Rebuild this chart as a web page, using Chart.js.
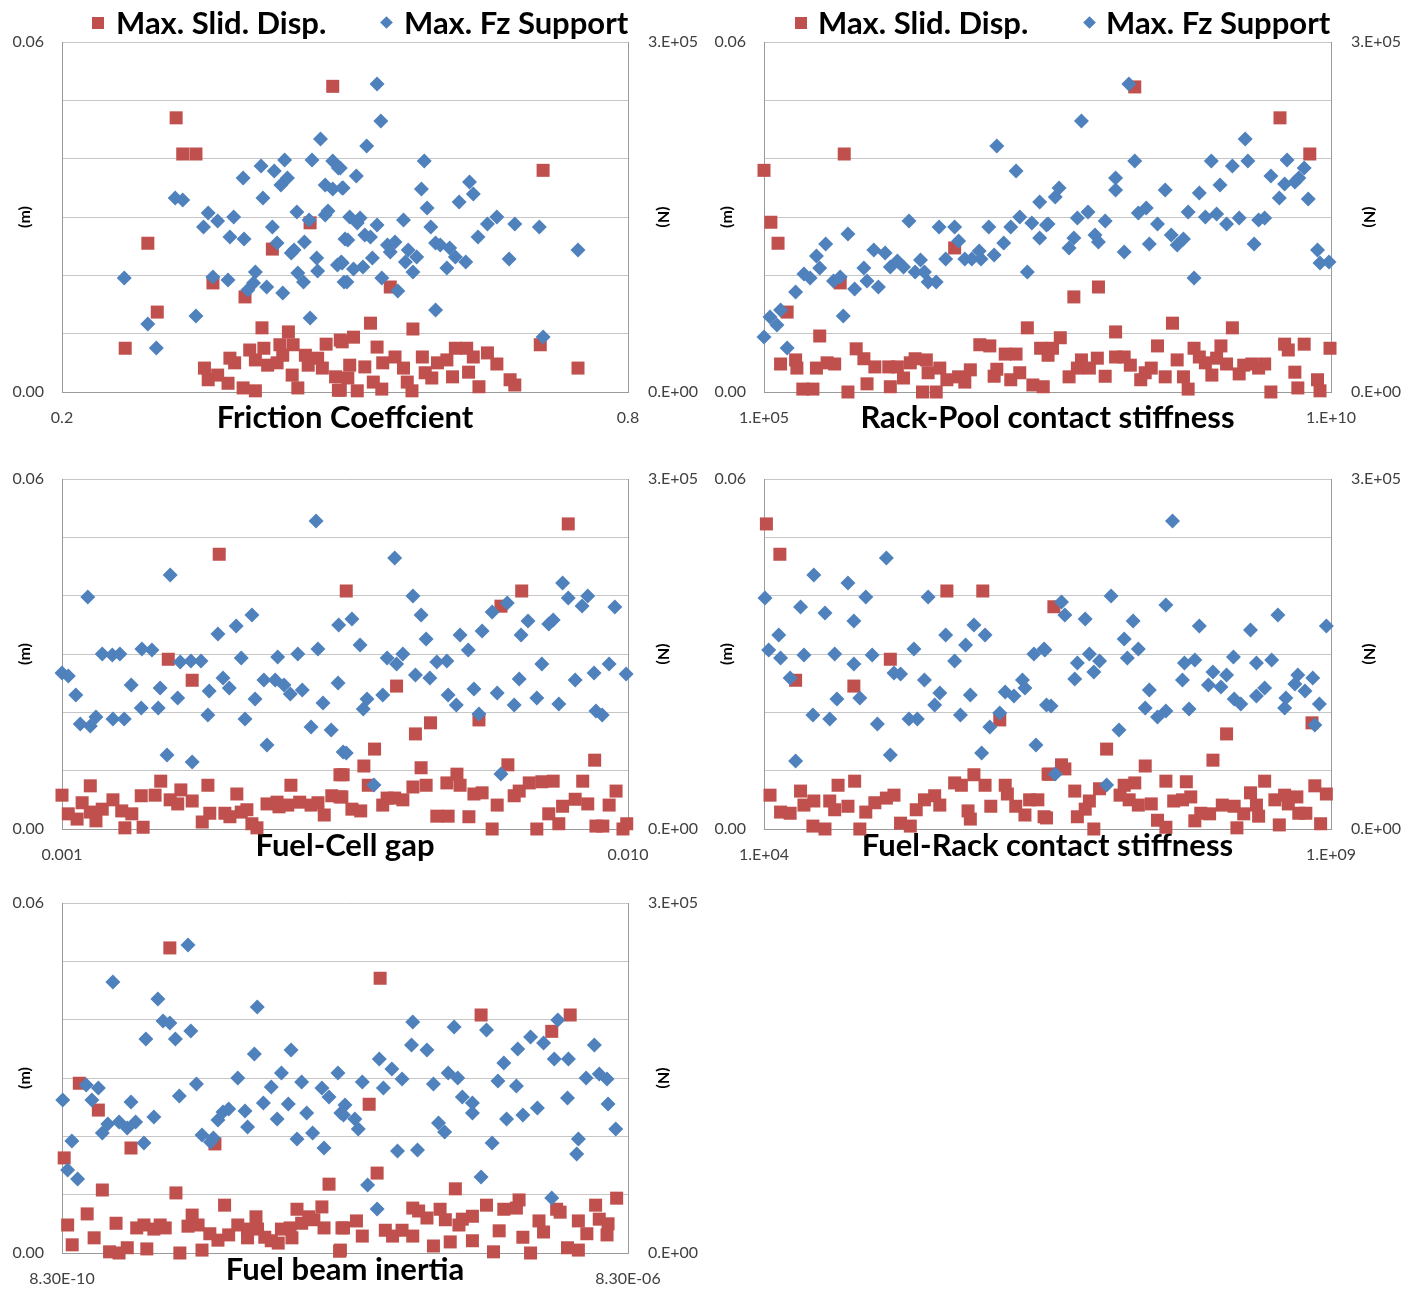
<!DOCTYPE html>
<html>
<head>
<meta charset="utf-8">
<title>Sensitivity scatter</title>
<script src="https://cdn.jsdelivr.net/npm/chart.js@4.4.1/dist/chart.umd.min.js"></script>
<style>
  body { margin: 0; background: #fff; font-family: Lato, "Open Sans", sans-serif; }
  #wrap { position: relative; width: 1420px; height: 1289px; overflow: hidden; }
  canvas { position: absolute; }
  .lg { position: absolute; font-weight: bold; font-size: 31px; line-height: 36px; color: #000; white-space: nowrap; }
  .sq { position: absolute; width: 12px; height: 12px; background: #C0504D; }
  .dm { position: absolute; width: 9px; height: 9px; background: #4F81BD; transform: rotate(45deg); }
</style>
</head>
<body>
<div id="wrap">
  <canvas id="c1" width="724" height="440" style="left:0;top:0"></canvas>
  <canvas id="c2" width="710" height="440" style="left:710px;top:0"></canvas>
  <canvas id="c3" width="724" height="428" style="left:0;top:440px"></canvas>
  <canvas id="c4" width="710" height="428" style="left:710px;top:440px"></canvas>
  <canvas id="c5" width="724" height="425" style="left:0;top:864px"></canvas>

  <div class="sq" style="left:92px;top:17px"></div>
  <div class="lg" style="left:116px;top:4px">Max. Slid. Disp.</div>
  <div class="dm" style="left:382px;top:18px"></div>
  <div class="lg" style="left:404px;top:4px">Max. Fz Support</div>

  <div class="sq" style="left:795px;top:17px"></div>
  <div class="lg" style="left:818px;top:4px">Max. Slid. Disp.</div>
  <div class="dm" style="left:1085px;top:18px"></div>
  <div class="lg" style="left:1106px;top:4px">Max. Fz Support</div>
</div>
<script>
// series names
const seriesNames = ["Max. Slid. Disp.", "Max. Fz Support"];

// axis tick labels (only the ends are labelled)
const dispTicks = ["0.00", "0.06"];
const forceTicks = ["0.E+00", "3.E+05"];
const frictionTicks = ["0.2", "0.8"];
const rackPoolTicks = ["1.E+05", "1.E+10"];
const cellGapTicks = ["0.001", "0.010"];
const fuelRackTicks = ["1.E+04", "1.E+09"];
const inertiaTicks = ["8.30E-10", "8.30E-06"];

// --- Friction coefficient: [x, displacement m] and [x, force N]
const frictionDisp = [
  [0.487,0.0524],[0.321,0.0470],[0.328,0.0408],[0.342,0.0408],[0.463,0.0290],[0.291,0.0255],[0.423,0.0245],
  [0.360,0.0187],[0.394,0.0163],[0.301,0.0137],[0.267,0.0075],[0.412,0.0110],[0.440,0.0103],[0.399,0.0072],
  [0.414,0.0075],[0.431,0.0081],[0.445,0.0081],[0.480,0.0082],[0.495,0.0089],[0.378,0.0058],[0.383,0.0050],
  [0.405,0.0055],[0.418,0.0046],[0.428,0.0050],[0.458,0.0063],[0.471,0.0058],[0.476,0.0041],[0.461,0.0046],
  [0.351,0.0041],[0.355,0.0021],[0.365,0.0029],[0.376,0.0015],[0.392,0.0007],[0.405,0.0002],[0.444,0.0029],
  [0.450,0.0007],[0.490,0.0026],[0.493,0.0003],[0.434,0.0063],[0.710,0.0380],[0.548,0.0180],[0.527,0.0118],
  [0.572,0.0108],[0.707,0.0081],[0.747,0.0041],[0.509,0.0094],[0.497,0.0086],[0.534,0.0077],[0.617,0.0075],
  [0.629,0.0075],[0.651,0.0067],[0.636,0.0060],[0.661,0.0048],[0.582,0.0060],[0.608,0.0055],[0.598,0.0050],
  [0.553,0.0060],[0.540,0.0050],[0.505,0.0046],[0.521,0.0043],[0.562,0.0041],[0.585,0.0033],[0.614,0.0026],
  [0.631,0.0034],[0.675,0.0021],[0.680,0.0012],[0.642,0.0009],[0.571,0.0002],[0.513,0.0002],[0.539,0.0005],
  [0.495,0.0003],[0.592,0.0024],[0.566,0.0017],[0.530,0.0017],[0.503,0.0024]
];
const frictionForce = [
  [0.474,216800],[0.436,198800],[0.465,198800],[0.487,198000],[0.493,192000],[0.411,193700],[0.425,189400],
  [0.392,183400],[0.439,183400],[0.432,177400],[0.479,177400],[0.487,174000],[0.497,174800],[0.320,166300],
  [0.328,164500],[0.413,166300],[0.355,153400],[0.365,146500],[0.382,150000],[0.350,141400],[0.449,154300],
  [0.462,147400],[0.479,151700],[0.482,155100],[0.423,141400],[0.378,132800],[0.393,131100],[0.428,127700],
  [0.457,128600],[0.443,119100],[0.446,121700],[0.470,114800],[0.492,108800],[0.496,111400],[0.500,131100],
  [0.266,97700],[0.360,98600],[0.376,96000],[0.405,102800],[0.403,93400],[0.397,87400],[0.417,90000],
  [0.434,84800],[0.450,102000],[0.456,94300],[0.471,103700],[0.499,94300],[0.291,58300],[0.342,65100],
  [0.463,63400],[0.300,37700],[0.534,264000],[0.538,232200],[0.523,210800],[0.584,198000],[0.495,192000],
  [0.512,185100],[0.498,174800],[0.581,174000],[0.632,180000],[0.636,169700],[0.621,162800],[0.587,157700],
  [0.505,150000],[0.516,149100],[0.513,144800],[0.534,143100],[0.562,147400],[0.591,141400],[0.651,144000],
  [0.661,150000],[0.680,144000],[0.706,141400],[0.503,130300],[0.521,134500],[0.527,132800],[0.641,132800],
  [0.545,126000],[0.553,128600],[0.548,120000],[0.567,121700],[0.576,115700],[0.564,111400],[0.596,127700],
  [0.601,126000],[0.611,123400],[0.617,115700],[0.628,111400],[0.608,106300],[0.674,114000],[0.747,121700],
  [0.497,110600],[0.509,105400],[0.519,107100],[0.529,114800],[0.502,94300],[0.539,97700],[0.572,102800],
  [0.556,86600],[0.596,70300],[0.710,47100]
];

// --- Rack-Pool contact stiffness
const rackPoolDisp = [
  [1.0e5,0.0380],[5.1e5,0.0408],[1.15e5,0.0291],[1.33e5,0.0255],[4.8e6,0.0247],[4.7e5,0.0187],[1.6e5,0.0137],
  [3.1e5,0.0096],[2.1e7,0.0110],[1.4e5,0.0048],[1.9e5,0.0055],[1.95e5,0.0041],[2.9e5,0.0041],[3.6e5,0.0050],
  [4.2e5,0.0048],[2.2e5,0.0005],[2.7e5,0.0005],[5.5e5,0.0000],[6.5e5,0.0074],[7.6e5,0.0057],[9.5e5,0.0043],
  [8.1e5,0.0014],[1.26e6,0.0043],[1.5e6,0.0043],[1.7e6,0.0024],[1.3e6,0.0009],[1.95e6,0.0050],[2.15e6,0.0057],
  [2.7e6,0.0055],[2.8e6,0.0033],[2.5e6,0.0000],[3.3e6,0.0000],[3.55e6,0.0041],[4.1e6,0.0021],[5.2e6,0.0026],
  [5.9e6,0.0017],[6.6e6,0.0038],[8.0e6,0.0081],[9.8e6,0.0079],[1.07e7,0.0027],[1.13e7,0.0039],[1.34e7,0.0065],
  [1.67e7,0.0065],[1.5e7,0.0021],[1.8e7,0.0033],[2.35e7,0.0012],[2.75e7,0.0075],[2.9e7,0.0009],[3.2e7,0.0063],
  [1.86e8,0.0523],[3.55e9,0.0470],[6.5e9,0.0408],[5.4e7,0.0163],[8.9e7,0.0180],[1.26e8,0.0103],[4.0e8,0.0118],
  [1.35e9,0.0110],[4.1e7,0.0093],[3.5e7,0.0075],[6.3e7,0.0055],[5.8e7,0.0041],[7.4e7,0.0041],[8.7e7,0.0058],
  [4.9e7,0.0026],[1.02e8,0.0027],[1.26e8,0.0060],[1.5e8,0.0060],[1.7e8,0.0046],[2.1e8,0.0021],[2.3e8,0.0033],
  [2.6e8,0.0041],[2.95e8,0.0079],[3.45e8,0.0026],[4.4e8,0.0055],[5.0e8,0.0026],[5.5e8,0.0005],[6.2e8,0.0075],
  [6.9e8,0.0060],[7.8e8,0.0050],[8.9e8,0.0029],[9.8e8,0.0058],[1.07e9,0.0079],[1.2e9,0.0048],[1.55e9,0.0031],
  [1.7e9,0.0046],[2.0e9,0.0048],[2.3e9,0.0041],[2.6e9,0.0048],[2.95e9,0.0000],[3.9e9,0.0082],[4.2e9,0.0072],
  [5.8e9,0.0082],[4.8e9,0.0034],[5.1e9,0.0007],[7.6e9,0.0021],[8.0e9,0.0002],[9.8e9,0.0075]
];
const rackPoolForce = [
  [1.0e5,47100],[1.13e5,64300],[1.3e5,57400],[1.4e5,70300],[1.6e5,37700],[1.9e5,85700],[2.25e5,101100],
  [2.55e5,97700],[2.9e5,116600],[3.1e5,106300],[3.5e5,126800],[4.1e5,95100],[4.7e5,98600],[5.0e5,65100],
  [5.5e5,135400],[6.3e5,88300],[7.6e5,106300],[8.1e5,95100],[9.3e5,121700],[1.02e6,90000],[1.17e6,119100],
  [1.3e6,107100],[1.5e6,112300],[1.7e6,107100],[1.9e6,146500],[2.15e6,102800],[2.4e6,113100],[2.6e6,102800],
  [2.8e6,94300],[3.3e6,94300],[3.5e6,141400],[4.0e6,114000],[4.8e6,141400],[5.2e6,129400],[5.9e6,114000],
  [6.8e6,114000],[7.9e6,120800],[8.2e6,114000],[9.6e6,141400],[1.07e7,117400],[1.13e7,210800],[1.3e7,127700],
  [1.5e7,141400],[1.67e7,189400],[1.8e7,150000],[2.1e7,102800],[2.3e7,144800],[2.7e7,162800],[2.7e7,132000],
  [3.1e7,143100],[3.2e7,144000],[3.7e7,167100],[4.0e7,174800],[4.9e7,123400],[5.4e7,132000],[5.8e7,149100],
  [7.2e7,154300],[6.3e7,232200],[8.3e7,134500],[8.9e7,128600],[1.02e8,146500],[1.26e8,183400],[1.26e8,173100],
  [1.5e8,120000],[1.65e8,264000],[1.86e8,198000],[2.0e8,153400],[2.35e8,157700],[2.5e8,126800],[2.95e8,144000],
  [3.45e8,173100],[3.9e8,134500],[4.4e8,126000],[5.0e8,131100],[5.5e8,154300],[6.2e8,97700],[6.9e8,170500],
  [7.8e8,150000],[8.8e8,198000],[9.8e8,152500],[1.05e9,177400],[1.2e9,144000],[1.35e9,193700],[1.55e9,149100],
  [1.75e9,216800],[1.85e9,198000],[2.1e9,126800],[2.3e9,147400],[2.6e9,149100],[2.95e9,185100],[3.5e9,166300],
  [3.9e9,178300],[4.1e9,198800],[4.8e9,180000],[5.2e9,183400],[5.8e9,192000],[6.3e9,165400],[7.6e9,121700],
  [8.0e9,110600],[9.6e9,111400]
];

// --- Fuel-Cell gap
const cellGapDisp = [
  [0.00350,0.0471],[0.00269,0.0291],[0.00307,0.0255],[0.00552,0.0408],[0.00100,0.0058],[0.00145,0.0074],
  [0.00110,0.0026],[0.00124,0.0017],[0.00132,0.0045],[0.00145,0.0029],[0.00154,0.0014],[0.00164,0.0034],
  [0.00181,0.0050],[0.00195,0.0031],[0.00211,0.0026],[0.00200,0.0002],[0.00226,0.0057],[0.00229,0.0003],
  [0.00248,0.0058],[0.00257,0.0082],[0.00272,0.0050],[0.00284,0.0043],[0.00289,0.0067],[0.00307,0.0048],
  [0.00323,0.0012],[0.00332,0.0075],[0.00335,0.0027],[0.00359,0.0027],[0.00367,0.0021],[0.00378,0.0060],
  [0.00385,0.0029],[0.00394,0.0033],[0.00402,0.0009],[0.00410,0.0002],[0.00426,0.0043],[0.00442,0.0046],
  [0.00445,0.0038],[0.00459,0.0041],[0.00464,0.0075],[0.00478,0.0046],[0.00496,0.0041],[0.00507,0.0045],
  [0.00517,0.0024],[0.00529,0.0057],[0.00542,0.0093],[0.00542,0.0055],[0.00905,0.0523],[0.00831,0.0408],
  [0.00798,0.0382],[0.00632,0.0245],[0.00662,0.0163],[0.00686,0.0182],[0.00597,0.0137],[0.00763,0.0187],
  [0.00809,0.0110],[0.00947,0.0118],[0.00580,0.0108],[0.00547,0.0093],[0.00671,0.0105],[0.00728,0.0094],
  [0.00587,0.0075],[0.00658,0.0072],[0.00679,0.0075],[0.00712,0.0079],[0.00733,0.0075],[0.00545,0.0055],
  [0.00610,0.0041],[0.00617,0.0053],[0.00629,0.0053],[0.00642,0.0050],[0.00561,0.0034],[0.00575,0.0031],
  [0.00696,0.0022],[0.00714,0.0022],[0.00747,0.0021],[0.00755,0.0060],[0.00768,0.0062],[0.00792,0.0041],
  [0.00784,0.0000],[0.00819,0.0057],[0.00827,0.0065],[0.00843,0.0079],[0.00863,0.0081],[0.00881,0.0082],
  [0.00855,0.0000],[0.00874,0.0026],[0.00890,0.0009],[0.00896,0.0039],[0.00916,0.0051],[0.00928,0.0082],
  [0.00936,0.0043],[0.00949,0.0005],[0.00960,0.0005],[0.00970,0.0041],[0.00981,0.0065],[0.00992,0.0000],
  [0.00998,0.0009]
];
const cellGapForce = [
  [0.00504,264000],[0.00272,217700],[0.00141,198800],[0.00402,183400],[0.00377,174000],[0.00348,167100],
  [0.00540,174800],[0.00227,154300],[0.00243,153400],[0.00164,150000],[0.00180,149100],[0.00192,150000],
  [0.00507,154300],[0.00475,150000],[0.00443,147400],[0.00385,146500],[0.00288,143100],[0.00305,144000],
  [0.00321,144000],[0.00100,133700],[0.00110,131100],[0.00122,114800],[0.00210,123400],[0.00256,120800],
  [0.00284,112300],[0.00334,118300],[0.00356,129400],[0.00366,120800],[0.00421,127700],[0.00439,127700],
  [0.00453,123400],[0.00463,115700],[0.00482,119100],[0.00407,111400],[0.00539,125100],[0.00515,108000],
  [0.00226,103700],[0.00253,103700],[0.00129,90000],[0.00145,88300],[0.00154,96000],[0.00181,94300],
  [0.00199,94300],[0.00332,97700],[0.00391,94300],[0.00496,87400],[0.00528,84800],[0.00426,72000],
  [0.00267,63400],[0.00307,57400],[0.00547,66000],[0.00629,232200],[0.00896,210800],[0.00905,198000],
  [0.00936,199700],[0.00927,191100],[0.00979,190300],[0.00658,199700],[0.00671,183400],[0.00808,193700],
  [0.00784,186000],[0.00561,180000],[0.00841,178300],[0.00874,175700],[0.00881,179100],[0.00830,166300],
  [0.00768,169700],[0.00733,166300],[0.00679,162800],[0.00574,157700],[0.00746,153400],[0.00617,146500],
  [0.00642,150000],[0.00632,141400],[0.00696,143100],[0.00712,144000],[0.00863,141400],[0.00970,141400],
  [0.00997,132800],[0.00946,133700],[0.00662,132000],[0.00685,129400],[0.00916,127700],[0.00827,128600],
  [0.00755,120000],[0.00792,116600],[0.00585,111400],[0.00610,114800],[0.00714,114800],[0.00855,112300],
  [0.00727,106300],[0.00819,106300],[0.00890,107100],[0.00579,102800],[0.00763,98600],[0.00949,101100],
  [0.00959,97700],[0.00552,65100],[0.00798,47100],[0.00596,37700]
];

// --- Fuel-Rack contact stiffness
const fuelRackDisp = [
  [1.05e4,0.0523],[1.38e4,0.0471],[4.1e5,0.0408],[8.5e5,0.0408],[1.3e5,0.0291],[1.9e4,0.0255],[6.2e4,0.0245],
  [1.2e6,0.0187],[1.13e4,0.0058],[2.1e4,0.0065],[1.4e4,0.0029],[1.7e4,0.0027],[2.25e4,0.0041],[2.75e4,0.0048],
  [2.7e4,0.0005],[3.45e4,0.0000],[3.8e4,0.0048],[4.2e4,0.0033],[4.5e4,0.0075],[5.5e4,0.0039],[6.3e4,0.0082],
  [7.0e4,0.0000],[7.9e4,0.0029],[9.5e4,0.0045],[1.2e5,0.0053],[1.4e5,0.0058],[1.6e5,0.0010],[1.95e5,0.0005],
  [2.2e5,0.0033],[2.6e5,0.0050],[3.2e5,0.0057],[3.55e5,0.0041],[4.8e5,0.0079],[5.5e5,0.0075],[6.3e5,0.0031],
  [6.6e5,0.0017],[7.1e5,0.0093],[8.9e5,0.0075],[1.0e6,0.0039],[1.34e6,0.0075],[1.4e6,0.0060],[1.66e6,0.0039],
  [2.0e6,0.0024],[2.2e6,0.0050],[2.6e6,0.0050],[2.95e6,0.0021],[3.2e6,0.0094],[3.6e6,0.0381],[1.2e8,0.0163],
  [9.1e7,0.0118],[6.8e8,0.0182],[1.05e7,0.0137],[2.3e7,0.0108],[4.2e6,0.0110],[3.3e6,0.0094],[4.5e6,0.0103],
  [5.5e6,0.0065],[7.4e6,0.0048],[6.8e6,0.0034],[5.8e6,0.0021],[3.1e6,0.0019],[8.1e6,0.0000],[9.1e6,0.0069],
  [1.38e7,0.0058],[1.5e7,0.0075],[1.86e7,0.0079],[1.66e7,0.0050],[2.0e7,0.0041],[2.6e7,0.0043],[2.95e7,0.0015],
  [3.5e7,0.0003],[3.5e7,0.0082],[4.1e7,0.0048],[4.9e7,0.0050],[5.8e7,0.0055],[5.3e7,0.0081],[6.3e7,0.0014],
  [7.1e7,0.0027],[8.5e7,0.0026],[1.1e8,0.0041],[1.4e8,0.0039],[1.48e8,0.0002],[1.7e8,0.0026],[1.95e8,0.0062],
  [2.2e8,0.0041],[2.3e8,0.0022],[2.6e8,0.0082],[3.2e8,0.0050],[3.5e8,0.0007],[3.9e8,0.0058],[4.2e8,0.0043],
  [5.0e8,0.0055],[5.2e8,0.0027],[6.0e8,0.0027],[7.2e8,0.0074],[8.1e8,0.0009],[9.1e8,0.0060]
];
const fuelRackForce = [
  [1.2e5,232200],[2.75e4,217700],[5.5e4,210800],[1.02e4,198000],[7.9e4,198800],[2.8e5,198800],[2.1e4,190300],
  [3.45e4,185100],[6.2e4,178300],[1.35e4,166300],[7.1e5,174800],[8.9e5,166300],[4.0e5,166300],[6.0e5,157700],
  [2.1e5,154300],[1.1e4,153400],[1.4e4,146500],[2.25e4,149100],[4.2e4,150000],[9.0e4,149100],[6.2e4,141400],
  [4.8e5,144000],[2.4e6,150000],[2.95e6,154300],[1.7e4,129400],[1.4e5,133700],[1.6e5,132800],[2.6e5,127700],
  [3.55e5,116600],[3.2e5,106300],[6.6e5,114800],[4.4e4,111400],[7.0e4,112300],[1.34e6,117400],[1.6e6,114000],
  [1.9e6,127700],[2.0e6,120800],[3.1e6,106300],[2.7e4,97700],[3.8e4,94300],[1.0e5,90000],[1.9e5,94300],
  [2.25e5,94300],[5.4e5,97700],[1.2e6,99400],[9.8e5,87400],[1.9e4,58300],[1.3e5,63400],[8.3e5,65100],
  [2.5e6,72000],[4.0e7,264000],[1.15e7,199700],[3.5e7,192000],[4.2e6,194600],[4.5e6,183400],[3.4e8,183400],
  [6.8e6,180000],[1.8e7,178300],[6.9e7,174000],[1.95e8,170500],[9.1e8,174000],[1.5e7,162800],[2.0e7,154300],
  [3.0e6,153400],[7.4e6,150000],[1.6e7,146500],[9.1e6,144000],[5.8e6,142300],[5.1e7,142300],[6.3e7,144800],
  [1.38e8,147400],[2.2e8,142300],[3.0e8,144800],[8.1e6,134500],[5.5e6,128600],[4.9e7,127700],[9.1e7,134500],
  [8.3e7,123400],[1.07e8,121700],[1.2e8,132000],[5.1e8,132000],[4.8e8,124300],[6.9e8,129400],[5.9e8,118300],
  [2.5e7,119100],[2.6e8,120800],[2.2e8,114000],[1.4e8,111400],[1.6e8,107100],[4.0e8,112300],[3.9e8,103700],
  [7.9e8,107100],[3.4e6,105400],[2.3e7,103700],[2.95e7,96000],[3.5e7,101100],[5.6e7,102800],[7.2e8,89100],
  [1.35e7,84800],[3.7e6,47100],[1.05e7,37700]
];

// --- Fuel beam inertia
const inertiaDisp = [
  [4.8e-9,0.0523],[1.1e-9,0.0291],[1.5e-9,0.0245],[2.55e-9,0.0180],[8.6e-10,0.0163],[1.0e-8,0.0187],
  [1.6e-9,0.0108],[5.3e-9,0.0103],[9.1e-10,0.0048],[9.8e-10,0.0014],[1.25e-9,0.0067],[1.4e-9,0.0026],
  [1.8e-9,0.0002],[2.0e-9,0.0051],[2.1e-9,0.0000],[2.4e-9,0.0009],[2.8e-9,0.0043],[3.15e-9,0.0048],
  [3.3e-9,0.0007],[3.7e-9,0.0041],[4.1e-9,0.0048],[4.45e-9,0.0043],[5.65e-9,0.0000],[6.45e-9,0.0046],
  [6.9e-9,0.0065],[7.6e-9,0.0048],[8.1e-9,0.0005],[9.2e-9,0.0033],[1.05e-8,0.0022],[1.17e-8,0.0082],
  [1.25e-8,0.0031],[1.45e-8,0.0048],[1.7e-8,0.0026],[1.7e-8,0.0041],[1.95e-8,0.0062],[2.0e-8,0.0041],
  [2.25e-8,0.0027],[2.5e-8,0.0021],[2.8e-8,0.0017],[2.95e-8,0.0041],[3.4e-8,0.0043],[3.5e-8,0.0026],
  [3.8e-8,0.0075],[4.1e-8,0.0051],[4.6e-8,0.0062],[5.0e-8,0.0057],[5.7e-8,0.0079],[5.9e-8,0.0043],
  [6.4e-8,0.0118],[7.6e-8,0.0003],[8.1e-8,0.0043],[1.47e-7,0.0471],[7.6e-7,0.0408],[3.24e-6,0.0408],
  [2.4e-6,0.0380],[1.23e-7,0.0255],[1.4e-7,0.0137],[5.0e-7,0.0110],[6.9e-6,0.0094],[4.9e-6,0.0082],
  [1.41e-6,0.0091],[2.5e-7,0.0077],[2.75e-7,0.0072],[3.9e-7,0.0075],[8.3e-7,0.0082],[1.1e-6,0.0075],
  [1.35e-6,0.0077],[2.6e-6,0.0075],[2.75e-6,0.0070],[3.15e-7,0.0060],[4.25e-7,0.0057],[5.6e-7,0.0058],
  [6.6e-7,0.0063],[5.3e-7,0.0048],[1.95e-6,0.0055],[3.7e-6,0.0055],[5.2e-6,0.0058],[6.0e-6,0.0050],
  [7.9e-8,0.0043],[1.0e-7,0.0055],[1.1e-7,0.0029],[1.6e-7,0.0039],[1.8e-7,0.0029],[2.1e-7,0.0039],
  [2.5e-7,0.0029],[3.5e-7,0.0012],[4.6e-7,0.0019],[6.6e-7,0.0021],[1.02e-6,0.0038],[9.3e-7,0.0002],
  [1.5e-6,0.0027],[1.7e-6,0.0000],[2.1e-6,0.0036],[3.1e-6,0.0009],[3.7e-6,0.0005],[4.25e-6,0.0033],
  [5.9e-6,0.0031],[7.7e-8,0.0005]
];
const inertiaForce = [
  [6.45e-9,264000],[1.9e-9,232200],[3.95e-9,217700],[1.99e-8,210800],[4.3e-9,198800],[4.8e-9,197100],
  [6.75e-9,190300],[3.25e-9,183400],[5.25e-9,183400],[3.45e-8,174000],[1.9e-8,170500],[2.95e-8,154300],
  [7.4e-8,154300],[1.45e-8,150000],[4.1e-8,146500],[1.23e-9,144000],[1.5e-9,141400],[7.4e-9,144800],
  [2.5e-8,142300],[5.7e-8,141400],[5.6e-9,134500],[6.4e-8,133700],[8.4e-10,131100],[1.35e-9,131100],
  [2.55e-9,129400],[2.2e-8,128600],[3.3e-8,127700],[1.63e-8,121700],[4.45e-8,120000],[1.14e-8,120800],
  [1.25e-8,123400],[7.75e-8,120000],[1.75e-9,110600],[2.1e-9,112300],[2.75e-9,112300],[2.4e-9,107100],
  [3.7e-9,116600],[1.05e-8,114000],[1.6e-9,102800],[1.7e-8,108000],[2.75e-8,114800],[4.9e-8,102800],
  [8.1e-9,101100],[9.3e-9,95100],[9.75e-9,98600],[3.15e-9,94300],[3.8e-8,97700],[5.9e-8,90000],
  [9.75e-10,96000],[9.1e-10,71100],[1.07e-9,63400],[2.5e-7,198000],[4.9e-7,193700],[8.3e-7,191100],
  [2.65e-6,199700],[1.7e-6,185100],[2.1e-6,180000],[4.8e-6,178300],[2.45e-7,178300],[3.15e-7,174000],
  [1.38e-6,174800],[1.45e-7,166300],[2.5e-6,166300],[3.15e-6,166300],[1.1e-6,162800],[1.78e-7,157700],
  [4.45e-7,154300],[5.2e-7,150000],[2.1e-7,149100],[4.2e-6,150000],[5.2e-6,153400],[5.9e-6,149100],
  [1.1e-7,146500],[1.0e-6,147400],[1.55e-7,141400],[3.5e-7,144800],[1.35e-6,143100],[5.6e-7,133700],
  [3.1e-6,132800],[6.6e-7,128600],[1.9e-6,124300],[6.0e-6,127700],[8.3e-8,126800],[8.1e-8,118300],
  [6.6e-7,120000],[9.75e-8,114800],[1.03e-7,106300],[3.8e-7,111400],[4.2e-7,103700],[1.15e-6,114800],
  [1.5e-6,118300],[6.8e-6,106300],[3.7e-6,97700],[3.6e-6,84800],[1.95e-7,87400],[2.7e-7,88300],
  [9.1e-7,94300],[1.2e-7,58300],[7.6e-7,65100],[1.4e-7,37700],[2.4e-6,47100]
];

const RED = "#C0504D";
const BLUE = "#4F81BD";
const TICK_COLOR = "#404040";
const GRID_COLOR = "#c6c6c6";
const AXIS_COLOR = "#9a9a9a";
const FONT = "Lato, 'Open Sans', sans-serif";

const toPoints = (pairs) => pairs.map(([x, y]) => ({ x, y }));

// layout of each panel (pixel sizes only, values live in the arrays above)
const panels = [
  { id: "c1", title: "Friction Coeffcient", xType: "linear", xMin: 0.2, xMax: 0.8, xLabels: frictionTicks,
    disp: frictionDisp, force: frictionForce, leftW: 62, rightW: 96, padTop: 42, xAxisH: 48, xTitlePad: 3, mPad: 15, nPad: 51 },
  { id: "c2", title: "Rack-Pool contact stiffness", xType: "logarithmic", xMin: 1e5, xMax: 1e10, xLabels: rackPoolTicks,
    disp: rackPoolDisp, force: rackPoolForce, leftW: 54, rightW: 89, padTop: 42, xAxisH: 48, xTitlePad: 3, mPad: 7, nPad: 41 },
  { id: "c3", title: "Fuel-Cell gap", xType: "linear", xMin: 0.001, xMax: 0.010, xLabels: cellGapTicks,
    disp: cellGapDisp, force: cellGapForce, leftW: 62, rightW: 96, padTop: 39, xAxisH: 39, xTitlePad: 3, mPad: 15, nPad: 51 },
  { id: "c4", title: "Fuel-Rack contact stiffness", xType: "logarithmic", xMin: 1e4, xMax: 1e9, xLabels: fuelRackTicks,
    disp: fuelRackDisp, force: fuelRackForce, leftW: 54, rightW: 89, padTop: 39, xAxisH: 39, xTitlePad: 3, mPad: 7, nPad: 41 },
  { id: "c5", title: "Fuel beam inertia", xType: "logarithmic", xMin: 8.3e-10, xMax: 8.3e-6, xLabels: inertiaTicks,
    disp: inertiaDisp, force: inertiaForce, leftW: 62, rightW: 96, padTop: 39, xAxisH: 36, xTitlePad: 0, mPad: 15, nPad: 51 }
];

const tickFont = { family: FONT, size: 16 };
const unitFont = { family: FONT, size: 16, weight: "bold" };

function makePanel(p) {
  const ctx = document.getElementById(p.id).getContext("2d");
  return new Chart(ctx, {
    type: "scatter",
    data: {
      datasets: [
        {
          label: seriesNames[0],
          data: toPoints(p.disp),
          yAxisID: "y",
          pointStyle: "rect",
          pointRadius: 9.2,
          backgroundColor: RED,
          borderColor: RED,
          borderWidth: 0,
          clip: false,
          order: 2,
        },
        {
          label: seriesNames[1],
          data: toPoints(p.force),
          yAxisID: "yN",
          pointStyle: "rectRot",
          pointRadius: 7.5,
          backgroundColor: BLUE,
          borderColor: BLUE,
          borderWidth: 0,
          clip: false,
          order: 1,
        },
      ],
    },
    options: {
      responsive: false,
      animation: false,
      devicePixelRatio: 1,
      layout: { padding: { top: p.padTop, left: 0, right: 0, bottom: 0 } },
      plugins: { legend: { display: false }, tooltip: { enabled: false } },
      scales: {
        x: {
          type: p.xType,
          position: "bottom",
          min: p.xMin,
          max: p.xMax,
          afterBuildTicks: (s) => { s.ticks = [{ value: p.xMin }, { value: p.xMax }]; },
          afterFit: (s) => { s.height = p.xAxisH; },
          ticks: {
            callback: (v, i) => p.xLabels[i],
            autoSkip: false,
            maxRotation: 0,
            padding: 16,
            color: TICK_COLOR,
            font: tickFont,
          },
          grid: { display: false, drawTicks: false },
          border: { color: AXIS_COLOR },
          title: {
            display: true,
            text: p.title,
            color: "#000",
            font: { family: FONT, size: 31, weight: "bold" },
            padding: { top: 0, bottom: p.xTitlePad },
          },
        },
        y: {
          position: "left",
          min: 0,
          max: 0.06,
          afterFit: (s) => { s.width = p.leftW; },
          ticks: {
            stepSize: 0.01,
            callback: (v, i, ticks) => (i === 0 ? dispTicks[0] : i === ticks.length - 1 ? dispTicks[1] : ""),
            padding: 18,
            color: TICK_COLOR,
            font: tickFont,
          },
          grid: { color: GRID_COLOR, drawTicks: false },
          border: { color: AXIS_COLOR },
          title: { display: true, text: "(m)", color: "#000", font: unitFont, padding: { top: p.mPad, bottom: 0 } },
        },
        yN: {
          position: "right",
          min: 0,
          max: 300000,
          afterBuildTicks: (s) => { s.ticks = [{ value: 0 }, { value: 300000 }]; },
          afterFit: (s) => { s.width = p.rightW; },
          ticks: {
            callback: (v, i) => forceTicks[i],
            padding: 20,
            color: TICK_COLOR,
            font: tickFont,
          },
          grid: { display: false, drawTicks: false },
          border: { color: AXIS_COLOR },
          title: { display: true, text: "(N)", color: "#000", font: unitFont, padding: { top: p.nPad, bottom: 0 } },
        },
      },
    },
  });
}

panels.forEach(makePanel);
</script>
</body>
</html>
